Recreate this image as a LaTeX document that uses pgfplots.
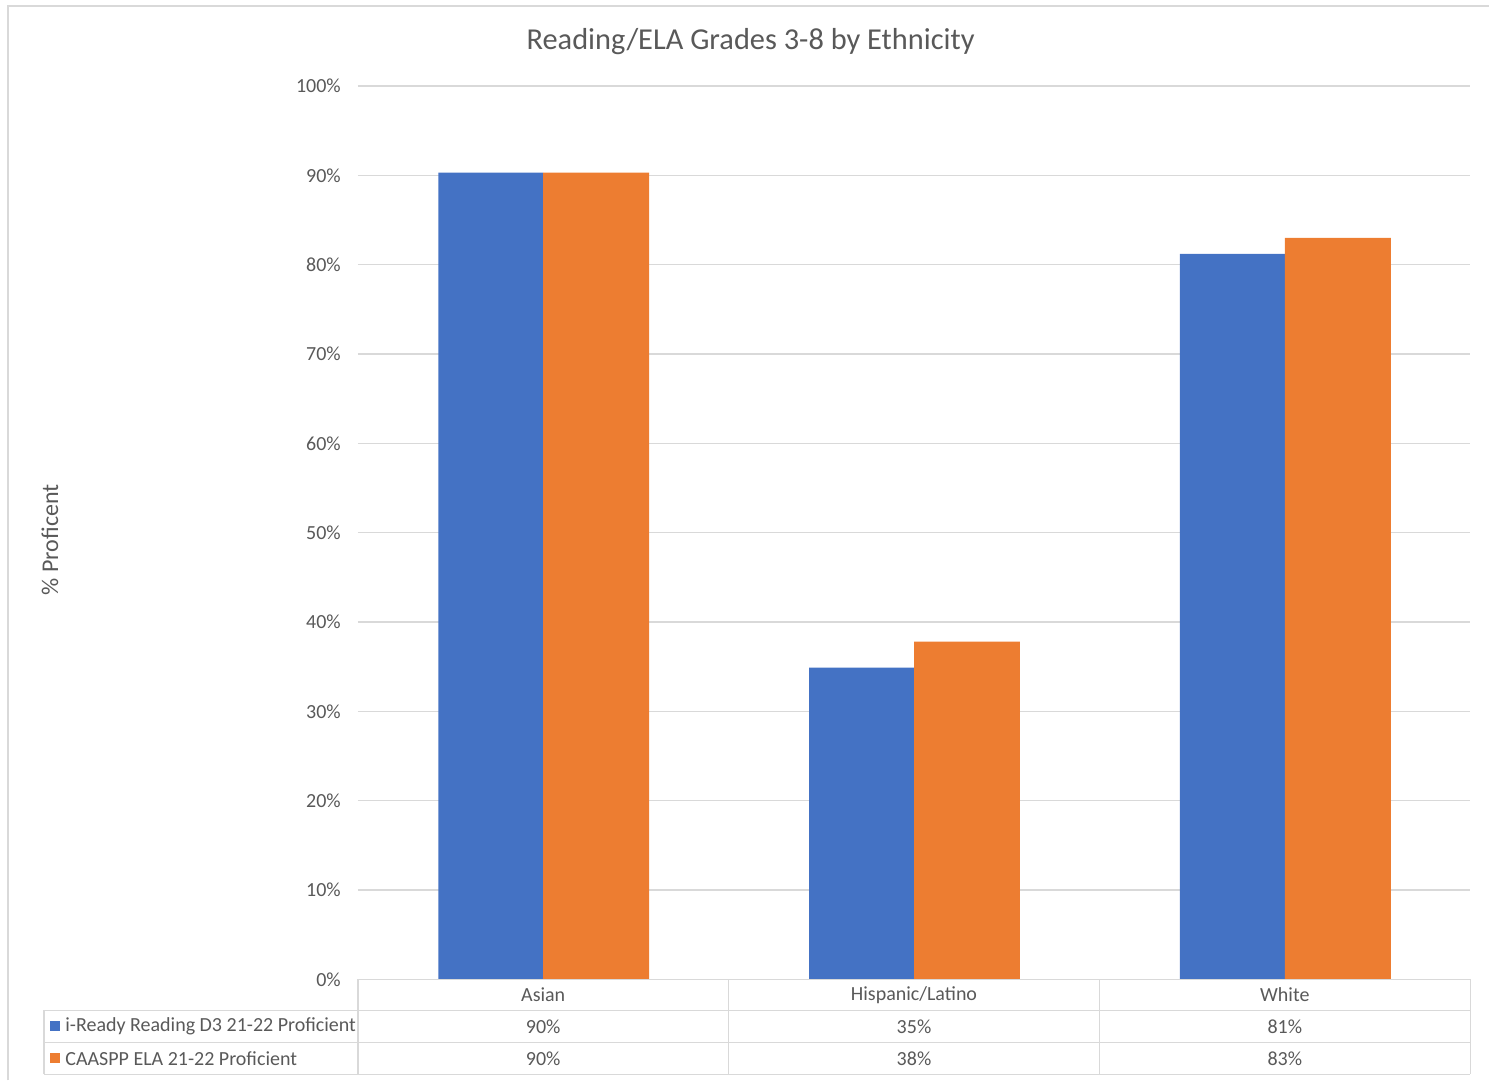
\documentclass[border=0pt]{standalone}
\usepackage{pgfplots}
\pgfplotsset{compat=1.18}
\usepackage{fontspec}
\setmainfont{Carlito}
\definecolor{sblue}{HTML}{4472C4}
\definecolor{sorange}{HTML}{ED7D31}
\definecolor{gridc}{HTML}{D9D9D9}
\definecolor{txt}{HTML}{595959}
\begin{document}
\begin{tikzpicture}
\path (-179pt,-50.5pt) rectangle (566pt,490pt);
\draw[gridc, line width=0.8pt] (-175pt,-50.5pt) -- (-175pt,487pt) -- (566pt,487pt);
\begin{axis}[
  at={(0pt,0pt)}, anchor=south west,
  scale only axis, width=556.5pt, height=447pt,
  xmin=-0.5, xmax=2.5, ymin=0, ymax=100,
  axis line style={draw=none},
  xtick=\empty,
  ytick={0,10,...,100},
  yticklabel={\pgfmathprintnumber{\tick}\%},
  /pgf/number format/assume math mode=true,
  yticklabel style={font=\fontsize{10}{11}\selectfont, text=txt},
  major tick length=0pt,
  yticklabel shift=5pt,
  ymajorgrids, grid style={gridc, line width=0.7pt},
  clip=false,
]
\addplot[ybar, bar width=52.5pt, bar shift=-26.25pt, fill=sblue, draw=none] coordinates {(0,90.3) (1,34.9) (2,81.2)};
\addplot[ybar, bar width=53pt, bar shift=26.5pt, fill=sorange, draw=none] coordinates {(0,90.3) (1,37.8) (2,83.0)};
\end{axis}
% title and y label
\node[text=txt, font=\fontsize{15.2}{17}\selectfont] at (196.5pt,469pt) {Reading/ELA Grades 3-8 by Ethnicity};
\node[text=txt, font=\fontsize{12}{13}\selectfont, rotate=90] at (-154pt,220pt) {\% Proficent};
% data table
\begin{scope}[gridc, line width=0.7pt]
\draw (0pt,0pt) -- (556.5pt,0pt);
\draw (-157pt,-15.5pt) -- (556.5pt,-15.5pt);
\draw (-157pt,-31.5pt) -- (556.5pt,-31.5pt);
\draw (-157pt,-47.5pt) -- (556.5pt,-47.5pt);
\draw (-157pt,-15.5pt) -- (-157pt,-47.5pt);
\draw (0pt,0pt) -- (0pt,-47.5pt);
\draw (185.5pt,0pt) -- (185.5pt,-47.5pt);
\draw (371pt,0pt) -- (371pt,-47.5pt);
\draw (556.5pt,0pt) -- (556.5pt,-47.5pt);
\end{scope}
\begin{scope}[every node/.style={text=txt, font=\fontsize{10}{11}\selectfont}]
\node at (92.75pt,-7.75pt) {Asian};
\node at (278.25pt,-7.75pt) {Hispanic/Latino};
\node at (463.75pt,-7.75pt) {White};
\node at (92.75pt,-23.5pt) {90\%};
\node at (278.25pt,-23.5pt) {35\%};
\node at (463.75pt,-23.5pt) {81\%};
\node at (92.75pt,-39.5pt) {90\%};
\node at (278.25pt,-39.5pt) {38\%};
\node at (463.75pt,-39.5pt) {83\%};
\fill[sblue] (-154pt,-26pt) rectangle (-149pt,-21pt);
\fill[sorange] (-154pt,-42pt) rectangle (-149pt,-37pt);
\node[anchor=west, inner sep=0pt] at (-146.5pt,-23.5pt) {i-Ready Reading D3 21-22 Proficient};
\node[anchor=west, inner sep=0pt] at (-146.5pt,-39.5pt) {CAASPP ELA 21-22 Proficient};
\end{scope}
\end{tikzpicture}
\end{document}
